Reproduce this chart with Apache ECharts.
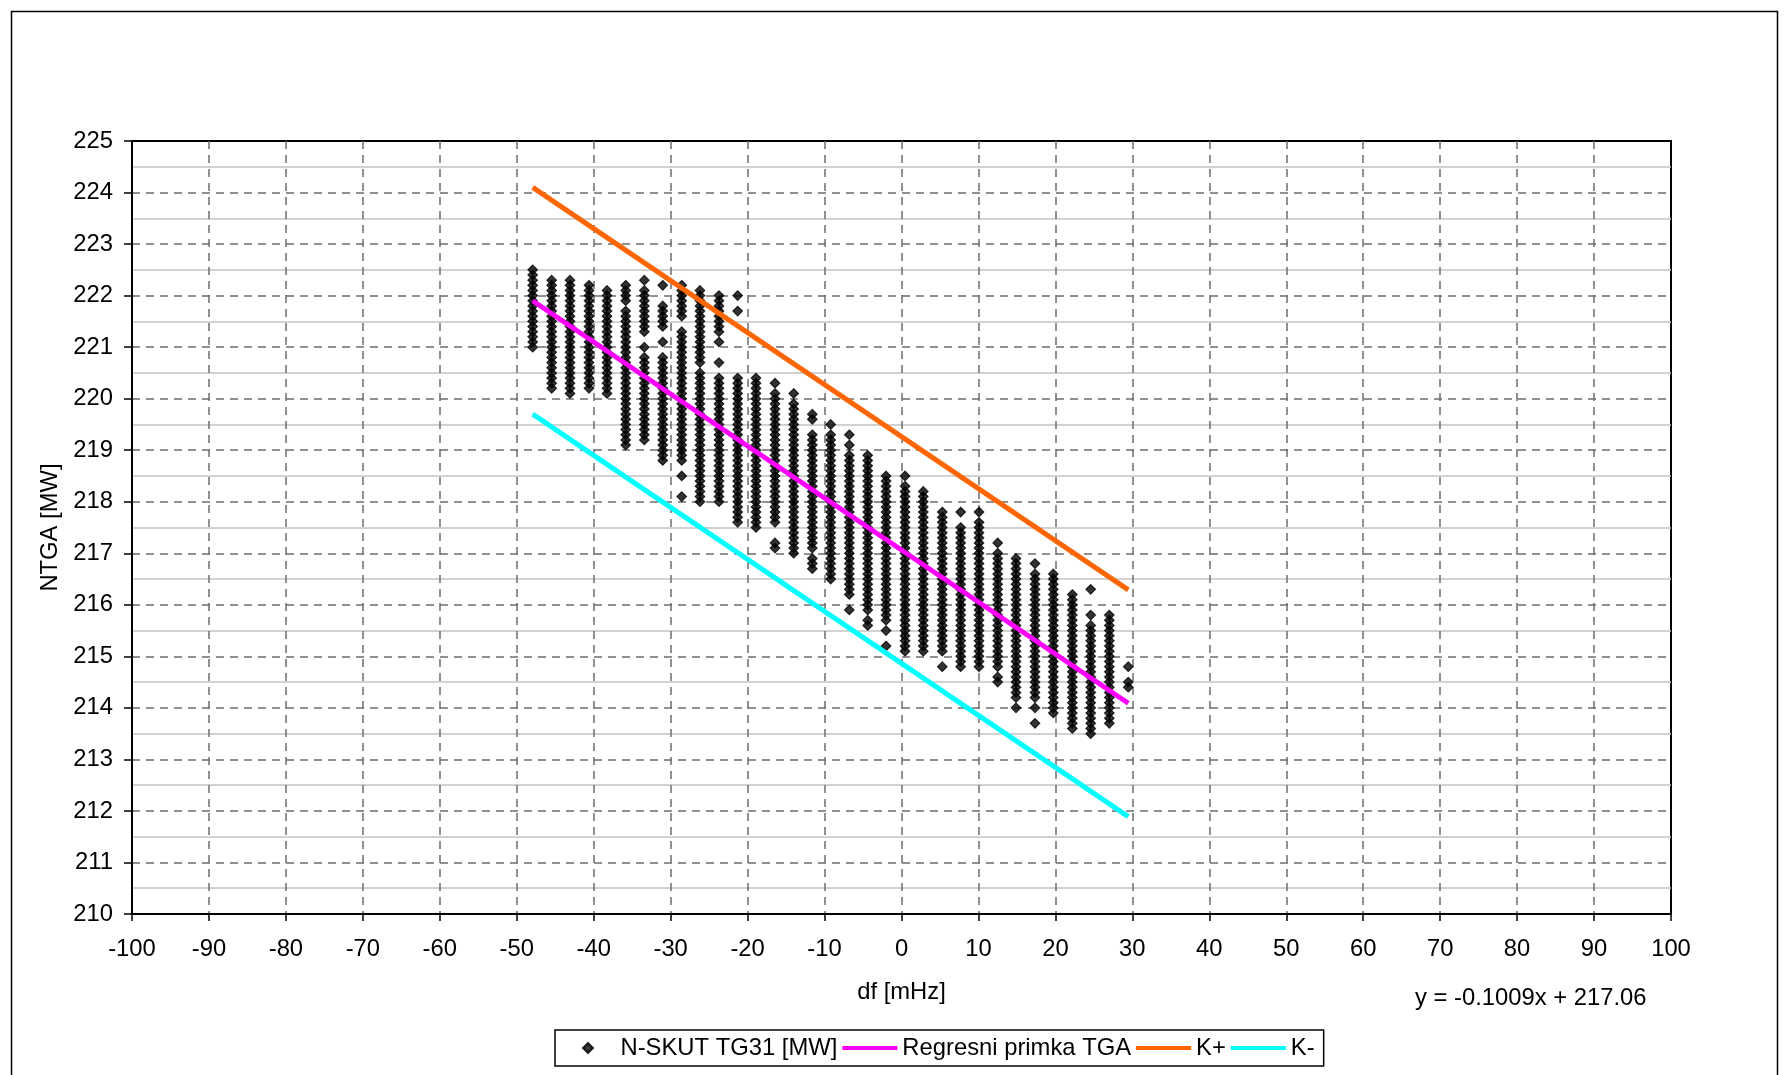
<!DOCTYPE html>
<html>
<head>
<meta charset="utf-8">
<script src="https://cdn.jsdelivr.net/npm/echarts@6/dist/echarts.min.js"></script>
<style>
html,body{margin:0;padding:0;background:#fff;}
#chart{width:1784px;height:1075px;}
</style>
</head>
<body>
<div id="chart"></div>
<script>
// x positions of the measurement columns (df, mHz)
const dfColumns = [-47.93,-45.46,-43.08,-40.61,-38.27,-35.84,-33.42,-31.03,-28.56,-26.19,-23.72,-21.29,-18.91,-16.44,-14.01,-11.59,-9.20,-6.78,-4.39,-2.01,0.46,2.83,5.30,7.69,10.07,12.50,14.88,17.35,19.73,22.20,24.59,27.01,29.47];

// NTGA values (MW) of the points in each column
const ntgaColumns = [
 [222.5,222.4,222.3,222.2,222.1,222.0,221.9,221.8,221.7,221.6,221.5,221.4,221.3,221.2,221.1,221.0],
 [222.3,222.2,222.1,222.0,221.9,221.8,221.7,221.6,221.5,221.4,221.3,221.2,221.1,221.0,220.9,220.8,220.7,220.6,220.5,220.4,220.3,220.2],
 [222.3,222.2,222.1,222.0,221.9,221.8,221.7,221.6,221.5,221.4,221.3,221.2,221.1,221.0,220.9,220.8,220.7,220.6,220.5,220.4,220.3,220.2,220.1],
 [222.2,222.1,222.0,221.9,221.8,221.7,221.6,221.5,221.4,221.3,221.2,221.1,221.0,220.9,220.8,220.7,220.6,220.5,220.4,220.3,220.2],
 [222.1,222.0,221.9,221.8,221.7,221.6,221.5,221.4,221.3,221.2,221.1,221.0,220.9,220.8,220.7,220.6,220.5,220.4,220.3,220.2,220.1],
 [222.2,222.1,222.0,221.9,221.7,221.6,221.5,221.4,221.3,221.2,221.1,221.0,220.9,220.8,220.7,220.6,220.5,220.4,220.3,220.2,220.1,220.0,219.9,219.8,219.7,219.6,219.5,219.4,219.3,219.2,219.1],
 [222.3,222.1,222.0,221.9,221.8,221.7,221.6,221.5,221.4,221.3,221.0,220.8,220.7,220.6,220.5,220.4,220.3,220.2,220.1,220.0,219.9,219.8,219.7,219.6,219.5,219.4,219.3,219.2],
 [222.2,221.8,221.7,221.6,221.5,221.4,221.1,220.8,220.7,220.6,220.5,220.4,220.3,220.2,220.1,220.0,219.9,219.8,219.7,219.6,219.5,219.4,219.3,219.2,219.1,219.0,218.9,218.8],
 [222.2,222.1,222.0,221.9,221.8,221.7,221.6,221.3,221.2,221.1,221.0,220.9,220.8,220.7,220.6,220.5,220.4,220.3,220.2,220.1,220.0,219.9,219.8,219.7,219.6,219.5,219.4,219.3,219.2,219.1,219.0,218.9,218.8,218.5,218.1],
 [222.1,222.0,221.9,221.8,221.7,221.6,221.5,221.4,221.3,221.2,221.1,221.0,220.9,220.8,220.7,220.5,220.4,220.3,220.2,220.1,220.0,219.9,219.8,219.7,219.6,219.5,219.4,219.3,219.2,219.1,219.0,218.9,218.8,218.7,218.6,218.5,218.4,218.3,218.2,218.1,218.0],
 [222.0,221.9,221.8,221.7,221.6,221.5,221.4,221.3,221.1,220.7,220.4,220.3,220.2,220.1,220.0,219.9,219.8,219.7,219.6,219.5,219.4,219.3,219.2,219.1,219.0,218.9,218.8,218.7,218.6,218.5,218.4,218.3,218.2,218.1,218.0],
 [222.0,221.7,220.4,220.3,220.2,220.1,220.0,219.9,219.8,219.7,219.6,219.5,219.4,219.3,219.2,219.1,219.0,218.9,218.8,218.7,218.6,218.5,218.4,218.3,218.2,218.1,218.0,217.9,217.8,217.7,217.6],
 [220.4,220.3,220.2,220.1,220.0,219.9,219.8,219.7,219.6,219.5,219.4,219.3,219.2,219.1,219.0,218.9,218.8,218.7,218.6,218.5,218.4,218.3,218.2,218.1,218.0,217.9,217.8,217.7,217.6,217.5],
 [220.3,220.1,220.0,219.9,219.8,219.7,219.6,219.5,219.4,219.3,219.2,219.1,219.0,218.9,218.8,218.7,218.6,218.5,218.4,218.3,218.2,218.1,218.0,217.9,217.8,217.7,217.6,217.2,217.1],
 [220.1,219.9,219.8,219.7,219.6,219.5,219.4,219.3,219.2,219.1,219.0,218.9,218.8,218.7,218.6,218.5,218.4,218.3,218.2,218.1,218.0,217.9,217.8,217.7,217.6,217.5,217.4,217.3,217.2,217.1,217.0],
 [219.7,219.6,219.3,219.2,219.1,219.0,218.9,218.8,218.7,218.6,218.5,218.4,218.3,218.2,218.1,218.0,217.9,217.8,217.7,217.6,217.5,217.4,217.3,217.2,217.1,216.9,216.8,216.7],
 [219.5,219.3,219.2,219.1,219.0,218.9,218.8,218.7,218.6,218.5,218.4,218.3,218.2,218.1,218.0,217.9,217.8,217.7,217.6,217.5,217.4,217.3,217.2,217.1,217.0,216.9,216.8,216.7,216.6,216.5],
 [219.3,219.1,218.9,218.8,218.7,218.6,218.5,218.4,218.3,218.2,218.1,218.0,217.9,217.8,217.7,217.6,217.5,217.4,217.3,217.2,217.1,217.0,216.9,216.8,216.7,216.6,216.5,216.4,216.3,216.2,215.9],
 [218.9,218.8,218.7,218.6,218.5,218.4,218.3,218.2,218.1,218.0,217.9,217.8,217.7,217.6,217.5,217.4,217.3,217.2,217.1,217.0,216.9,216.8,216.7,216.6,216.5,216.4,216.3,216.2,216.1,216.0,215.9,215.7,215.6],
 [218.5,218.4,218.3,218.2,218.1,218.0,217.9,217.8,217.7,217.6,217.5,217.4,217.3,217.2,217.1,217.0,216.9,216.8,216.7,216.6,216.5,216.4,216.3,216.2,216.1,216.0,215.9,215.8,215.7,215.5,215.2],
 [218.5,218.3,218.2,218.1,218.0,217.9,217.8,217.7,217.6,217.5,217.4,217.3,217.2,217.1,217.0,216.9,216.8,216.7,216.6,216.5,216.4,216.3,216.2,216.1,216.0,215.9,215.8,215.7,215.6,215.5,215.4,215.3,215.2,215.1],
 [218.2,218.1,218.0,217.9,217.8,217.7,217.6,217.5,217.4,217.3,217.2,217.1,217.0,216.9,216.8,216.7,216.6,216.5,216.4,216.3,216.2,216.1,216.0,215.9,215.8,215.7,215.6,215.5,215.4,215.3,215.2,215.1],
 [217.8,217.7,217.6,217.5,217.4,217.3,217.2,217.1,217.0,216.9,216.8,216.7,216.6,216.5,216.4,216.3,216.2,216.1,216.0,215.9,215.8,215.7,215.6,215.5,215.4,215.3,215.2,215.1,214.8],
 [217.8,217.5,217.4,217.3,217.2,217.1,217.0,216.9,216.8,216.7,216.6,216.5,216.4,216.3,216.2,216.1,216.0,215.9,215.8,215.7,215.6,215.5,215.4,215.3,215.2,215.1,215.0,214.9,214.8],
 [217.8,217.6,217.5,217.4,217.3,217.2,217.1,217.0,216.9,216.8,216.7,216.6,216.5,216.4,216.3,216.2,216.1,216.0,215.9,215.8,215.7,215.6,215.5,215.4,215.3,215.2,215.1,215.0,214.9,214.8],
 [217.2,217.0,216.9,216.8,216.7,216.6,216.5,216.4,216.3,216.2,216.1,216.0,215.9,215.8,215.7,215.6,215.5,215.4,215.3,215.2,215.1,215.0,214.9,214.8,214.6,214.5],
 [216.9,216.8,216.7,216.6,216.5,216.4,216.3,216.2,216.1,216.0,215.9,215.8,215.7,215.6,215.5,215.4,215.3,215.2,215.1,215.0,214.9,214.8,214.7,214.6,214.5,214.4,214.3,214.2,214.0],
 [216.8,216.6,216.5,216.4,216.3,216.2,216.1,216.0,215.9,215.8,215.7,215.6,215.5,215.4,215.3,215.2,215.1,215.0,214.9,214.8,214.7,214.6,214.5,214.4,214.3,214.2,214.0,213.7],
 [216.6,216.5,216.4,216.3,216.2,216.1,216.0,215.9,215.8,215.7,215.6,215.5,215.4,215.3,215.2,215.1,215.0,214.9,214.8,214.7,214.6,214.5,214.4,214.3,214.2,214.1,214.0,213.9],
 [216.2,216.1,216.0,215.9,215.8,215.7,215.6,215.5,215.4,215.3,215.2,215.1,215.0,214.9,214.8,214.7,214.6,214.5,214.4,214.3,214.2,214.1,214.0,213.9,213.8,213.7,213.6],
 [216.3,215.8,215.6,215.5,215.4,215.3,215.2,215.1,215.0,214.9,214.8,214.7,214.6,214.5,214.4,214.3,214.2,214.1,214.0,213.9,213.8,213.7,213.6,213.5],
 [215.8,215.7,215.6,215.5,215.4,215.3,215.2,215.1,215.0,214.9,214.8,214.7,214.6,214.5,214.4,214.3,214.2,214.1,214.0,213.9,213.8,213.7],
 [214.8,214.5,214.4]
];

// Line end points (df, MW)
const lineX = [-47.93, 29.47];
const regressionY = [221.90, 214.09];
const kPlusY = [224.10, 216.29];
const kMinusY = [219.70, 211.89];

const seriesNames = ['N-SKUT TG31 [MW]', 'Regresni primka TGA', 'K+', 'K-'];
const xAxisName = 'df [mHz]';
const yAxisName = 'NTGA [MW]';
const equationText = 'y = -0.1009x + 217.06';

const FONT = '"Liberation Sans", Arial, sans-serif';
const FS = 23.8;

const scatterData = [];
dfColumns.forEach((x, i) => ntgaColumns[i].forEach(y => scatterData.push([x, y])));
const pairs = ys => lineX.map((x, i) => [x, ys[i]]);

const chart = echarts.init(document.getElementById('chart'), null, {renderer: 'canvas'});

chart.setOption({
  animation: false,
  backgroundColor: '#fff',
  textStyle: {fontFamily: FONT},
  grid: {left: 132, top: 141, right: 113, bottom: 161, show: true, borderColor: '#000', borderWidth: 2, backgroundColor: '#fff'},
  xAxis: {
    type: 'value', min: -100, max: 100, interval: 10,
    name: xAxisName, nameLocation: 'middle', nameGap: 66,
    nameTextStyle: {fontSize: FS, color: '#000', fontFamily: FONT},
    axisLine: {show: true, onZero: false, lineStyle: {color: '#000', width: 2}},
    axisTick: {show: true, length: 7, lineStyle: {color: '#000', width: 1.5}},
    axisLabel: {fontSize: FS, color: '#000', fontFamily: FONT, margin: 23},
    splitLine: {show: true, showMinLine: false, showMaxLine: false, lineStyle: {type: [8, 6], color: '#6e6e6e', width: 1.5}}
  },
  yAxis: {
    type: 'value', min: 210, max: 225, interval: 1,
    name: yAxisName, nameLocation: 'middle', nameGap: 68,
    nameTextStyle: {fontSize: FS, color: '#000', fontFamily: FONT},
    axisLine: {show: true, onZero: false, lineStyle: {color: '#000', width: 2}},
    axisTick: {show: true, length: 8, lineStyle: {color: '#000', width: 1.5}},
    axisLabel: {fontSize: FS, color: '#000', fontFamily: FONT, margin: 19, padding: [8, 0, 0, 0]},
    minorTick: {show: false, splitNumber: 2},
    minorSplitLine: {show: true, lineStyle: {color: '#c4c4c4', width: 1.5}},
    splitLine: {show: true, showMinLine: false, showMaxLine: false, lineStyle: {type: [8, 6], color: '#6e6e6e', width: 1.5}}
  },
  legend: {
    data: [
      {name: seriesNames[0], icon: 'path://M5,0L10,5L5,10L0,5Z'},
      {name: seriesNames[1], itemStyle: {opacity: 0}},
      {name: seriesNames[2], itemStyle: {opacity: 0}},
      {name: seriesNames[3], itemStyle: {opacity: 0}}
    ],
    left: 555, top: 1030,
    orient: 'horizontal',
    itemWidth: 55, itemHeight: 10, itemGap: 3,
    padding: [6, 9, 6, 27],
    borderColor: '#000', borderWidth: 1.5,
    backgroundColor: '#fff',
    symbolKeepAspect: true,
    lineStyle: {width: 4},
    textStyle: {fontSize: FS, color: '#000', fontFamily: FONT}
  },
  series: [
    {
      name: seriesNames[0], type: 'scatter', data: scatterData,
      symbol: 'diamond', symbolSize: 9.5,
      itemStyle: {color: '#000', borderColor: '#000', borderWidth: 1.2}, z: 2
    },
    {
      name: seriesNames[1], type: 'line', data: pairs(regressionY),
      symbol: 'none', lineStyle: {color: '#ff00ff', width: 5}, itemStyle: {color: '#ff00ff'}, z: 3
    },
    {
      name: seriesNames[2], type: 'line', data: pairs(kPlusY),
      symbol: 'none', lineStyle: {color: '#ff6600', width: 5}, itemStyle: {color: '#ff6600'}, z: 3
    },
    {
      name: seriesNames[3], type: 'line', data: pairs(kMinusY),
      symbol: 'none', lineStyle: {color: '#00ffff', width: 5}, itemStyle: {color: '#00ffff'}, z: 3
    }
  ],
  graphic: [
    {type: 'rect', left: 9, top: 9, shape: {width: 1766, height: 1100}, style: {fill: 'none', stroke: '#000', lineWidth: 1.5}, silent: true, z: -10},
    {type: 'text', left: 1415, top: 986, style: {text: equationText, font: FS + 'px ' + FONT, fill: '#000'}}
  ]
});
</script>
</body>
</html>
